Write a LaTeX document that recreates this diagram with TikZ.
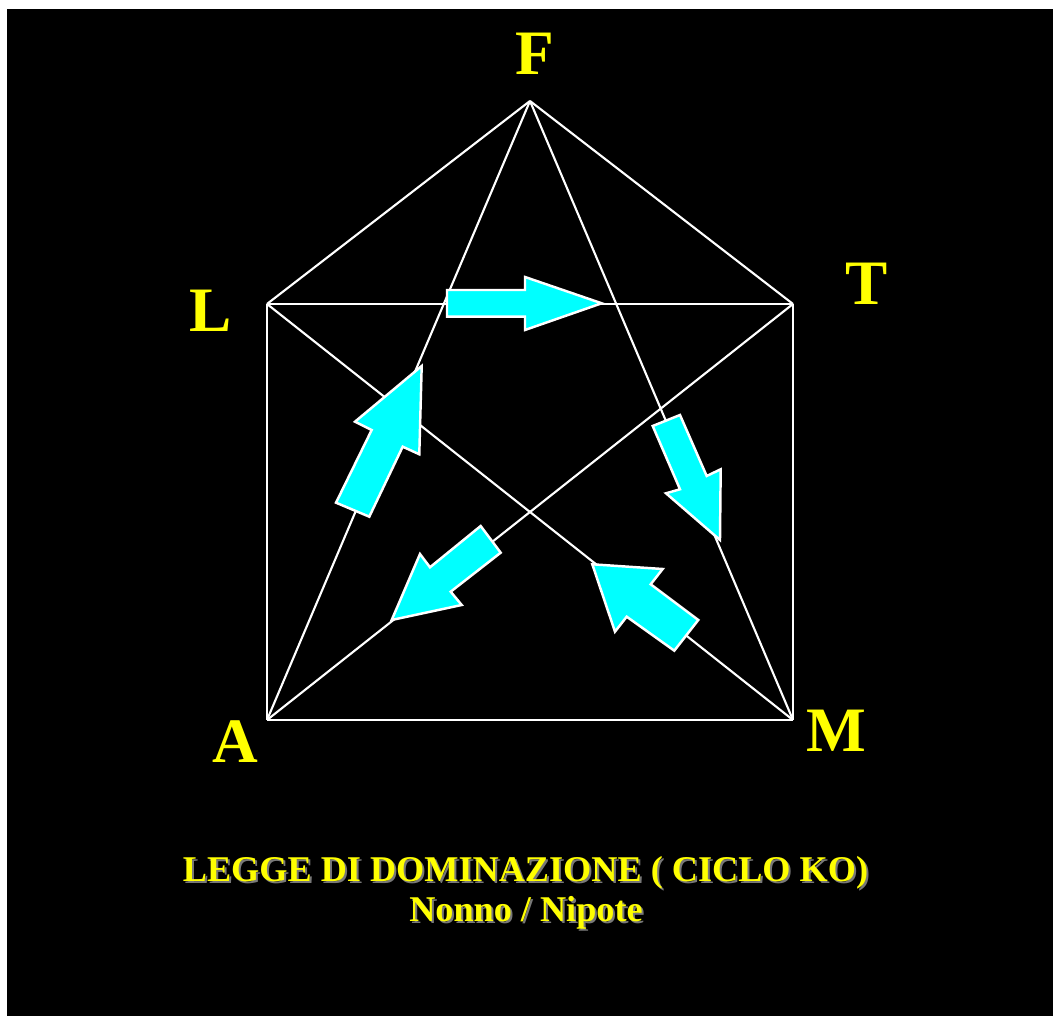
\documentclass[tikz,border=0pt]{standalone}
\usepackage{fontspec}
\setmainfont{Liberation Serif}
\usepackage{tikz}
\usetikzlibrary{positioning}
\definecolor{labelyellow}{RGB}{255,255,0}
\definecolor{arrowcyan}{RGB}{0,255,255}
\definecolor{shadowgray}{RGB}{120,120,120}

\begin{document}
\begin{tikzpicture}[x=0.01cm, y=-0.01cm,
  edge/.style={draw=white, line width=0.6pt},
  vlabel/.style={text=labelyellow, font=\fontsize{18}{20}\selectfont\bfseries, inner sep=0pt},
  fatarrow/.style={fill=arrowcyan, draw=white, line width=0.7pt, line join=miter},
  titletext/.style={font=\fontsize{10.3}{12}\selectfont\bfseries, inner sep=0pt, anchor=base}]
\useasboundingbox[fill=white] (0,0) rectangle (1053,1016);
\fill[black] (7,9) rectangle (1053,1016);

% vertices of the pentagon
\coordinate (F) at (530,101);
\coordinate (L) at (267,304);
\coordinate (T) at (793,304);
\coordinate (A) at (267,720);
\coordinate (M) at (793,720);

% labels
\node[vlabel] (labF) at (535,54) {F};
\node[vlabel] (labL) at (211,311) {L};
\node[vlabel] (labT) at (867,284) {T};
\node[vlabel] (labA) at (235,742) {A};
\node[vlabel] (labM) at (836,731) {M};

% outline and star
\draw[edge] (F) -- (L);
\draw[edge] (F) -- (T);
\draw[edge] (L) -- (T);
\draw[edge] (L) -- (A);
\draw[edge] (T) -- (M);
\draw[edge] (A) -- (M);
\draw[edge] (F) -- (A);
\draw[edge] (F) -- (M);
\draw[edge] (L) -- (M);
\draw[edge] (T) -- (A);

% cycle arrows
\draw[fatarrow] (447,290) -- (525,290) -- (525,277) -- (601.7,303.3) -- (525,330) -- (525,316.7) -- (447,316.7) -- cycle;
\draw[fatarrow] (652.7,426) -- (680,415) -- (706.7,476) -- (720.7,469.3) -- (720,540) -- (666,493.3) -- (680,489.3) -- cycle;
\draw[fatarrow] (480.7,526) -- (500.7,552.7) -- (450.7,591.7) -- (461.7,605) -- (391.7,620) -- (420,554) -- (430,567.3) -- cycle;
\draw[fatarrow] (698.3,620) -- (674.3,650.7) -- (626.7,616.7) -- (615,631.7) -- (592.3,564.3) -- (662.7,569) -- (650.7,584.3) -- cycle;
\draw[fatarrow] (336,502.7) -- (369.3,516.7) -- (402.7,446.7) -- (419.3,454.3) -- (421.7,366) -- (355,421.7) -- (371.7,430) -- cycle;

% caption with shadow
\node[titletext, text=shadowgray] (titleshadow) at (527.5,883.7) {LEGGE DI DOMINAZIONE ( CICLO KO)};
\node[titletext, text=labelyellow] (title) at (525.5,881.7) {LEGGE DI DOMINAZIONE ( CICLO KO)};
\node[titletext, text=shadowgray] (subshadow) at (528,923.7) {Nonno / Nipote};
\node[titletext, text=labelyellow] (subtitle) at (526,921.7) {Nonno / Nipote};
\end{tikzpicture}
\end{document}
